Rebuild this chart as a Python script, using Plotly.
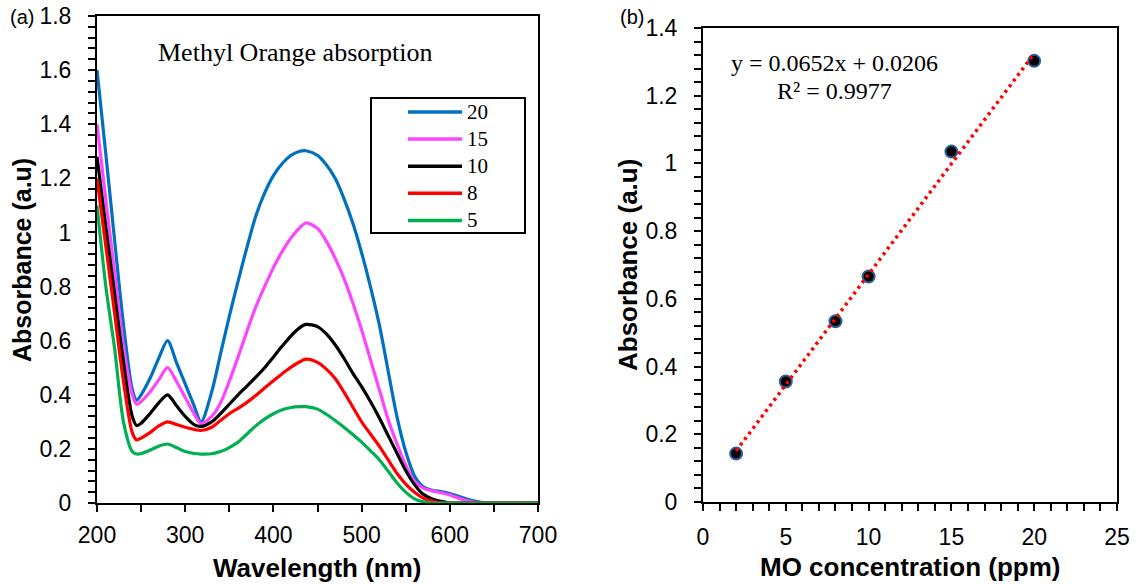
import numpy as np
import plotly.graph_objects as go

W, H = 1136, 584

# ---------------- data: panel (a) ----------------
wavelength = [200, 210, 220, 230, 240, 245, 250, 260, 270, 280, 290, 300, 310, 318,
              330, 340, 350, 360, 370, 380, 390, 400, 410, 420, 430, 437, 450, 460,
              470, 480, 490, 500, 510, 520, 530, 540, 550, 560, 570, 580, 590, 600,
              610, 620, 630, 640, 660, 680, 700]

abs_20 = [1.60, 1.29, 0.97, 0.66, 0.42, 0.38, 0.40, 0.46, 0.535, 0.60, 0.52, 0.44, 0.36, 0.30,
          0.41, 0.55, 0.69, 0.82, 0.945, 1.06, 1.145, 1.21, 1.255, 1.285, 1.30, 1.302, 1.285, 1.25,
          1.20, 1.125, 1.035, 0.925, 0.80, 0.66, 0.49, 0.32, 0.19, 0.10, 0.06, 0.047, 0.042, 0.035,
          0.025, 0.014, 0.006, 0, 0, 0, 0]
abs_15 = [1.40, 1.12, 0.85, 0.58, 0.40, 0.365, 0.375, 0.41, 0.455, 0.50, 0.45, 0.39, 0.33, 0.294,
          0.32, 0.37, 0.45, 0.54, 0.635, 0.725, 0.80, 0.87, 0.93, 0.98, 1.018, 1.035, 1.015, 0.968,
          0.905, 0.83, 0.74, 0.64, 0.53, 0.42, 0.31, 0.22, 0.14, 0.08, 0.055, 0.045, 0.038, 0.03,
          0.018, 0.008, 0.002, 0, 0, 0, 0]
abs_10 = [1.28, 1.02, 0.77, 0.52, 0.32, 0.286, 0.295, 0.33, 0.37, 0.40, 0.36, 0.32, 0.29, 0.283,
          0.30, 0.33, 0.365, 0.40, 0.432, 0.465, 0.50, 0.54, 0.58, 0.618, 0.648, 0.66, 0.652, 0.625,
          0.585, 0.535, 0.48, 0.43, 0.375, 0.315, 0.25, 0.185, 0.12, 0.068, 0.032, 0.015, 0.006, 0,
          0, 0, 0, 0, 0, 0, 0]
abs_8 = [1.20, 0.95, 0.70, 0.45, 0.26, 0.233, 0.24, 0.26, 0.285, 0.30, 0.29, 0.28, 0.272, 0.268,
         0.28, 0.305, 0.33, 0.35, 0.372, 0.397, 0.425, 0.452, 0.478, 0.502, 0.522, 0.532, 0.52, 0.495,
         0.46, 0.41, 0.355, 0.30, 0.255, 0.21, 0.16, 0.11, 0.07, 0.04, 0.018, 0.007, 0, 0,
         0, 0, 0, 0, 0, 0, 0]
abs_5 = [1.10, 0.80, 0.57, 0.30, 0.19, 0.181, 0.183, 0.195, 0.21, 0.218, 0.205, 0.19, 0.183, 0.181,
         0.182, 0.19, 0.205, 0.225, 0.255, 0.285, 0.31, 0.33, 0.345, 0.353, 0.356, 0.356, 0.347, 0.328,
         0.305, 0.28, 0.253, 0.225, 0.193, 0.16, 0.118, 0.075, 0.04, 0.015, 0.004, 0, 0, 0,
         0, 0, 0, 0, 0, 0, 0]

series_names = ["20", "15", "10", "8", "5"]
series_values = [abs_20, abs_15, abs_10, abs_8, abs_5]
series_colors = ["#0070C0", "#FF44FF", "#000000", "#FF0000", "#00B050"]

# ---------------- data: panel (b) ----------------
conc = [2, 5, 8, 10, 15, 20]
absorb = [0.143, 0.356, 0.534, 0.666, 1.035, 1.303]
fit_slope, fit_intercept, fit_r2 = 0.0652, 0.0206, 0.9977

xticks_a = [200, 300, 400, 500, 600, 700]
yticks_a = [0, 0.2, 0.4, 0.6, 0.8, 1, 1.2, 1.4, 1.6, 1.8]
xticks_b = [0, 5, 10, 15, 20, 25]
yticks_b = [0, 0.2, 0.4, 0.6, 0.8, 1, 1.2, 1.4]

SANS = "Liberation Sans, Arial, sans-serif"
SERIF = "Liberation Serif, Times New Roman, serif"


def px(x):
    return x / W


def py(y):
    return 1 - y / H


fig = go.Figure()

for name, vals, col in zip(series_names, series_values, series_colors):
    fig.add_trace(go.Scatter(x=wavelength, y=vals, mode="lines", name=name,
                             line=dict(color=col, width=3.2, shape="spline", smoothing=0.8),
                             xaxis="x", yaxis="y", showlegend=False, hoverinfo="x+y+name"))

fig.add_trace(go.Scatter(x=conc, y=absorb, mode="markers", name="data",
                         marker=dict(color="black", size=12,
                                     line=dict(color="#2F5F9A", width=2)),
                         xaxis="x2", yaxis="y2", showlegend=False))

fit_x = np.array([min(conc), max(conc)], dtype=float)
fit_y = fit_slope * fit_x + fit_intercept
fig.add_trace(go.Scatter(x=fit_x, y=fit_y, mode="lines", name="fit",
                         line=dict(color="#FF0000", width=3.5, dash="3px,4px"),
                         xaxis="x2", yaxis="y2", showlegend=False))

axis_common = dict(showline=True, linecolor="black", linewidth=2, mirror=True,
                   showgrid=False, zeroline=False, ticks="outside", ticklen=7,
                   tickwidth=1.5, tickcolor="black", automargin=False,
                   tickfont=dict(family=SANS, size=23, color="black"))

fig.update_layout(
    width=W, height=H, autosize=False,
    margin=dict(l=0, r=0, t=0, b=0, pad=0),
    paper_bgcolor="white", plot_bgcolor="white",
    xaxis=dict(domain=[px(97), px(538)], range=[200, 700], tickvals=xticks_a,
               minor=dict(dtick=50, tick0=200, ticks="outside", ticklen=7, tickwidth=1.5,
                          tickcolor="black"),
               ticklabelstandoff=3, anchor="y", **axis_common),
    yaxis=dict(domain=[py(503), py(16)], range=[0, 1.8], tickvals=yticks_a,
               minor=dict(dtick=0.04, tick0=0, ticks="outside", ticklen=7, tickwidth=1.5,
                          tickcolor="black"),
               ticklabelstandoff=12, anchor="x", **axis_common),
    xaxis2=dict(domain=[px(703), px(1117)], range=[0, 25], tickvals=xticks_b,
                minor=dict(dtick=1, tick0=0, ticks="outside", ticklen=7, tickwidth=1.5,
                           tickcolor="black"),
                ticklabelstandoff=6, anchor="y2", **axis_common),
    yaxis2=dict(domain=[py(502), py(28)], range=[0, 1.4], tickvals=yticks_b,
                minor=dict(dtick=0.04, tick0=0, ticks="outside", ticklen=7, tickwidth=1.5,
                           tickcolor="black"),
                ticklabelstandoff=12, anchor="x2", **axis_common),
)

ann = []
# axis titles
ann.append(dict(text="<b>Absorbance (a.u)</b>", x=px(22), y=py(260), textangle=-90,
                font=dict(family=SANS, size=25, color="black")))
ann.append(dict(text="<b>Wavelength (nm)</b>", x=px(317), y=py(568),
                font=dict(family=SANS, size=26, color="black")))
ann.append(dict(text="<b>Absorbance (a.u)</b>", x=px(628), y=py(265), textangle=-90,
                font=dict(family=SANS, size=26, color="black")))
ann.append(dict(text="<b>MO concentration (ppm)</b>", x=px(910), y=py(567),
                font=dict(family=SANS, size=26, color="black")))
# panel labels
ann.append(dict(text="(a)", x=px(22), y=py(17), font=dict(family=SANS, size=20, color="black")))
ann.append(dict(text="(b)", x=px(632), y=py(17), font=dict(family=SANS, size=20, color="black")))
# chart text
ann.append(dict(text="Methyl Orange absorption", x=px(295), y=py(53),
                font=dict(family=SERIF, size=26, color="black")))
ann.append(dict(text=f"y = {fit_slope}x + {fit_intercept}", x=px(834), y=py(63),
                font=dict(family=SERIF, size=24, color="black")))
ann.append(dict(text=f"R² = {fit_r2}", x=px(834), y=py(91),
                font=dict(family=SERIF, size=24, color="black")))

shapes = []
# manual legend box
shapes.append(dict(type="rect", xref="paper", yref="paper", x0=px(371), x1=px(525),
                   y0=py(233), y1=py(98), line=dict(color="black", width=2),
                   fillcolor="white", layer="above"))
for i, (name, col) in enumerate(zip(series_names, series_colors)):
    yy = 112 + i * 27.1
    shapes.append(dict(type="line", xref="paper", yref="paper", x0=px(408), x1=px(462),
                       y0=py(yy), y1=py(yy), line=dict(color=col, width=3.5), layer="above"))
    ann.append(dict(text=name, x=px(465), y=py(yy), xanchor="left",
                    font=dict(family=SERIF, size=21, color="black")))

for a in ann:
    a.setdefault("xref", "paper")
    a.setdefault("yref", "paper")
    a.setdefault("showarrow", False)
    a.setdefault("xanchor", "center")
    a.setdefault("yanchor", "middle")

fig.update_layout(annotations=ann, shapes=shapes)

fig.write_html("out.html")
